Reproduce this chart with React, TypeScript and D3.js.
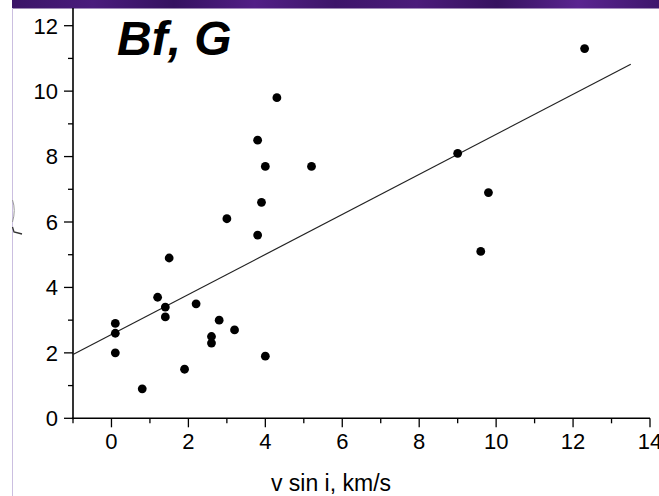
import React, { useEffect, useRef } from "react";
import * as d3 from "d3";

const vsini = [12.3, 4.3, 3.8, 4.0, 5.2, 3.9, 3.0, 3.8, 9.0, 9.8, 9.6, 1.5, 1.2, 1.4, 1.4, 2.2, 0.1, 0.1, 0.1, 2.8, 2.6, 2.6, 3.2, 4.0, 1.9, 0.8];
const bf = [11.3, 9.8, 8.5, 7.7, 7.7, 6.6, 6.1, 5.6, 8.1, 6.9, 5.1, 4.9, 3.7, 3.4, 3.1, 3.5, 2.9, 2.6, 2.0, 3.0, 2.5, 2.3, 2.7, 1.9, 1.5, 0.9];
const fitIntercept = 2.56;
const fitSlope = 0.612;
const fitRange = [-1, 13.5];
const xTicks = [0, 2, 4, 6, 8, 10, 12, 14];
const yTicks = [0, 2, 4, 6, 8, 10, 12];
const title = "Bf, G";
const xLabel = "v sin i, km/s";

export default function App() {
  const ref = useRef<SVGSVGElement | null>(null);
  useEffect(() => {
    document.body.style.margin = "0";
    const svg = d3.select(ref.current);
    svg.selectAll("*").remove();
    const W = 659, H = 496;
    const x = d3.scaleLinear().domain([-1, 14]).range([73, 650]);
    const y = d3.scaleLinear().domain([0, 12]).range([418.3, 25.7]);
    const font = "'Liberation Sans', Arial, Helvetica, sans-serif";

    svg.append("rect").attr("width", W).attr("height", H).attr("fill", "#fff");

    // top purple band
    const defs = svg.append("defs");
    const g = defs.append("linearGradient").attr("id", "band").attr("x1", "0").attr("x2", "1");
    const stops = ["#3a1466", "#4a1c7c", "#351260", "#521f86", "#3d1569", "#4b1b7a", "#36125f", "#5a2490", "#3e176c"];
    stops.forEach((c, i) => g.append("stop").attr("offset", i / (stops.length - 1)).attr("stop-color", c));
    svg.append("rect").attr("x", 12).attr("y", 0).attr("width", W - 12).attr("height", 8.5).attr("fill", "url(#band)");

    // left pale line
    svg.append("line").attr("x1", 12.5).attr("x2", 12.5).attr("y1", 8).attr("y2", H)
      .attr("stroke", "#cbbfe0").attr("stroke-width", 1);
    // cut-off y label fragment
    svg.append("path").attr("d", "M12.5 227 L14 232 L22 234").attr("fill", "none")
      .attr("stroke", "#333").attr("stroke-width", 1.3);
    svg.append("path").attr("d", "M12.5 200 Q16 210 12.5 222").attr("fill", "none")
      .attr("stroke", "#999").attr("stroke-width", 1);

    const k = svg.append("g");
    // axes lines
    k.append("line").attr("x1", x(-1)).attr("x2", x(-1)).attr("y1", 8).attr("y2", y(0) + 1)
      .attr("stroke", "#000").attr("stroke-width", 1.6);
    k.append("line").attr("x1", x(-1) - 1).attr("x2", x(14)).attr("y1", y(0)).attr("y2", y(0))
      .attr("stroke", "#000").attr("stroke-width", 1.6);

    // x ticks
    d3.range(-1, 15).forEach((v) => {
      const major = v % 2 === 0;
      k.append("line").attr("x1", x(v)).attr("x2", x(v)).attr("y1", y(0)).attr("y2", y(0) + (major ? 9 : 5))
        .attr("stroke", "#000").attr("stroke-width", 1.3);
    });
    xTicks.forEach((v) => {
      k.append("text").attr("x", x(v)).attr("y", 449).attr("text-anchor", "middle")
        .attr("font-family", font).attr("font-size", 22).attr("fill", "#000").text(String(v));
    });
    // y ticks
    d3.range(0, 13).forEach((v) => {
      const major = v % 2 === 0;
      k.append("line").attr("x1", x(-1) - (major ? 9 : 5)).attr("x2", x(-1)).attr("y1", y(v)).attr("y2", y(v))
        .attr("stroke", "#000").attr("stroke-width", 1.3);
    });
    yTicks.forEach((v) => {
      k.append("text").attr("x", 58).attr("y", y(v) + 7.8).attr("text-anchor", "end")
        .attr("font-family", font).attr("font-size", 22).attr("fill", "#000").text(String(v));
    });

    // fit line
    const line = d3.line<number>().x((d) => x(d)).y((d) => y(fitIntercept + fitSlope * d));
    k.append("path").attr("d", line(fitRange)).attr("fill", "none").attr("stroke", "#222").attr("stroke-width", 1.2);

    // points
    vsini.forEach((vx, i) => {
      k.append("circle").attr("cx", x(vx)).attr("cy", y(bf[i])).attr("r", 4.4).attr("fill", "#000");
    });

    // title
    k.append("text").attr("x", 117).attr("y", 55).attr("font-family", font).attr("font-size", 48)
      .attr("font-weight", "bold").attr("font-style", "italic").attr("fill", "#000").text(title);
    // x label
    k.append("text").attr("x", 331).attr("y", 491).attr("text-anchor", "middle")
      .attr("font-family", font).attr("font-size", 23).attr("fill", "#000").text(xLabel);
  }, []);
  return <svg ref={ref} width={659} height={496} style={{ display: "block", position: "absolute", left: 0, top: 0 }} />;
}
